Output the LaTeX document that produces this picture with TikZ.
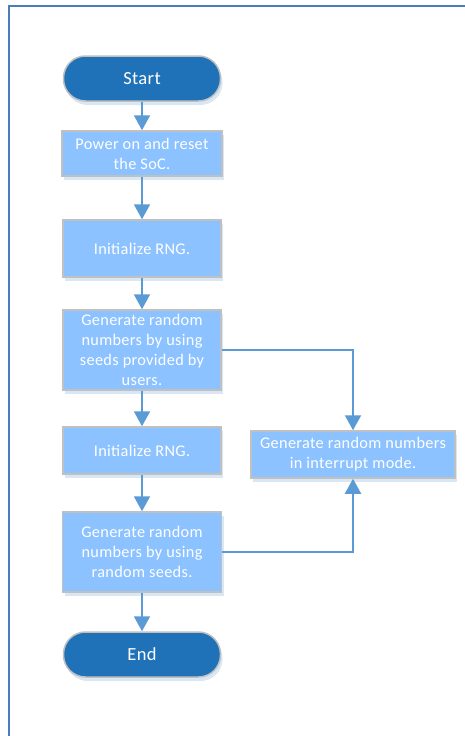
\documentclass[tikz,border=0pt]{standalone}
\usepackage{fontspec}
\setmainfont[LetterSpace=2]{Carlito}
\usetikzlibrary{arrows.meta,shadows}
\definecolor{framecol}{HTML}{4A7EBB}
\definecolor{termfill}{HTML}{1F71B8}
\definecolor{boxfill}{HTML}{8CC2FF}
\definecolor{edgegray}{HTML}{C0C0C0}
\definecolor{flowline}{HTML}{5B9BD5}
\definecolor{shadowcol}{HTML}{C9DDF2}
\tikzset{
  x=1pt, y=-1pt,
  softshadow/.style={drop shadow={shadow xshift=2pt, shadow yshift=-4pt, fill=shadowcol, opacity=0.7}},
  terminal/.style={draw=edgegray, line width=1.5pt, fill=termfill, rounded corners=22pt,
    minimum width=157pt, minimum height=45pt, text=white, inner sep=0pt,
    font=\fontsize{18.5}{22}\selectfont, softshadow},
  procbox/.style={draw=edgegray, line width=1.5pt, fill=boxfill, minimum width=158pt,
    text=white, align=center, inner sep=0pt,
    font=\fontsize{16.3}{20}\selectfont, softshadow},
  flow/.style={draw=flowline, line width=2pt, -{Triangle[width=16pt,length=15pt]}}
}
\begin{document}
\begin{tikzpicture}
\useasboundingbox (0,0) rectangle (465,736);
\fill[white] (0,0) rectangle (465,736);
% outer frame (open at right and bottom)
\draw[framecol, line width=2pt] (8.5,736) -- (8.5,5.5) -- (465,5.5);

% main column
\node[terminal] (start) at (142,78.5) {Start};
\node[procbox, minimum height=45pt, minimum width=160pt] (power) at (142,153.5) {Power on and reset\\the SoC.};
\node[procbox, minimum height=57pt] (init1) at (142,248.5) {Initialize RNG.};
\node[procbox, minimum height=80pt] (gen1) at (142,350) {Generate random\\numbers by using\\seeds provided by\\users.};
\node[procbox, minimum height=47pt] (init2) at (142,450.5) {Initialize RNG.};
\node[procbox, minimum height=80pt, minimum width=159pt] (gen2) at (142,552) {Generate random\\numbers by using\\random seeds.};
\node[terminal] (stop) at (142,654.5) {End};

% side branch
\node[procbox, minimum height=47pt, minimum width=204pt] (intr) at (353,454.5) {Generate random numbers\\in interrupt mode.};

% connectors
\draw[flow] (start) -- (power);
\draw[flow] (power) -- (init1);
\draw[flow] (init1) -- (gen1);
\draw[flow] (gen1) -- (init2);
\draw[flow] (init2) -- (gen2);
\draw[flow] (gen2) -- (stop);
\draw[flow] (gen1.east) -| (intr.north);
\draw[flow] (gen2.east) -| (intr.south);
\end{tikzpicture}
\end{document}
